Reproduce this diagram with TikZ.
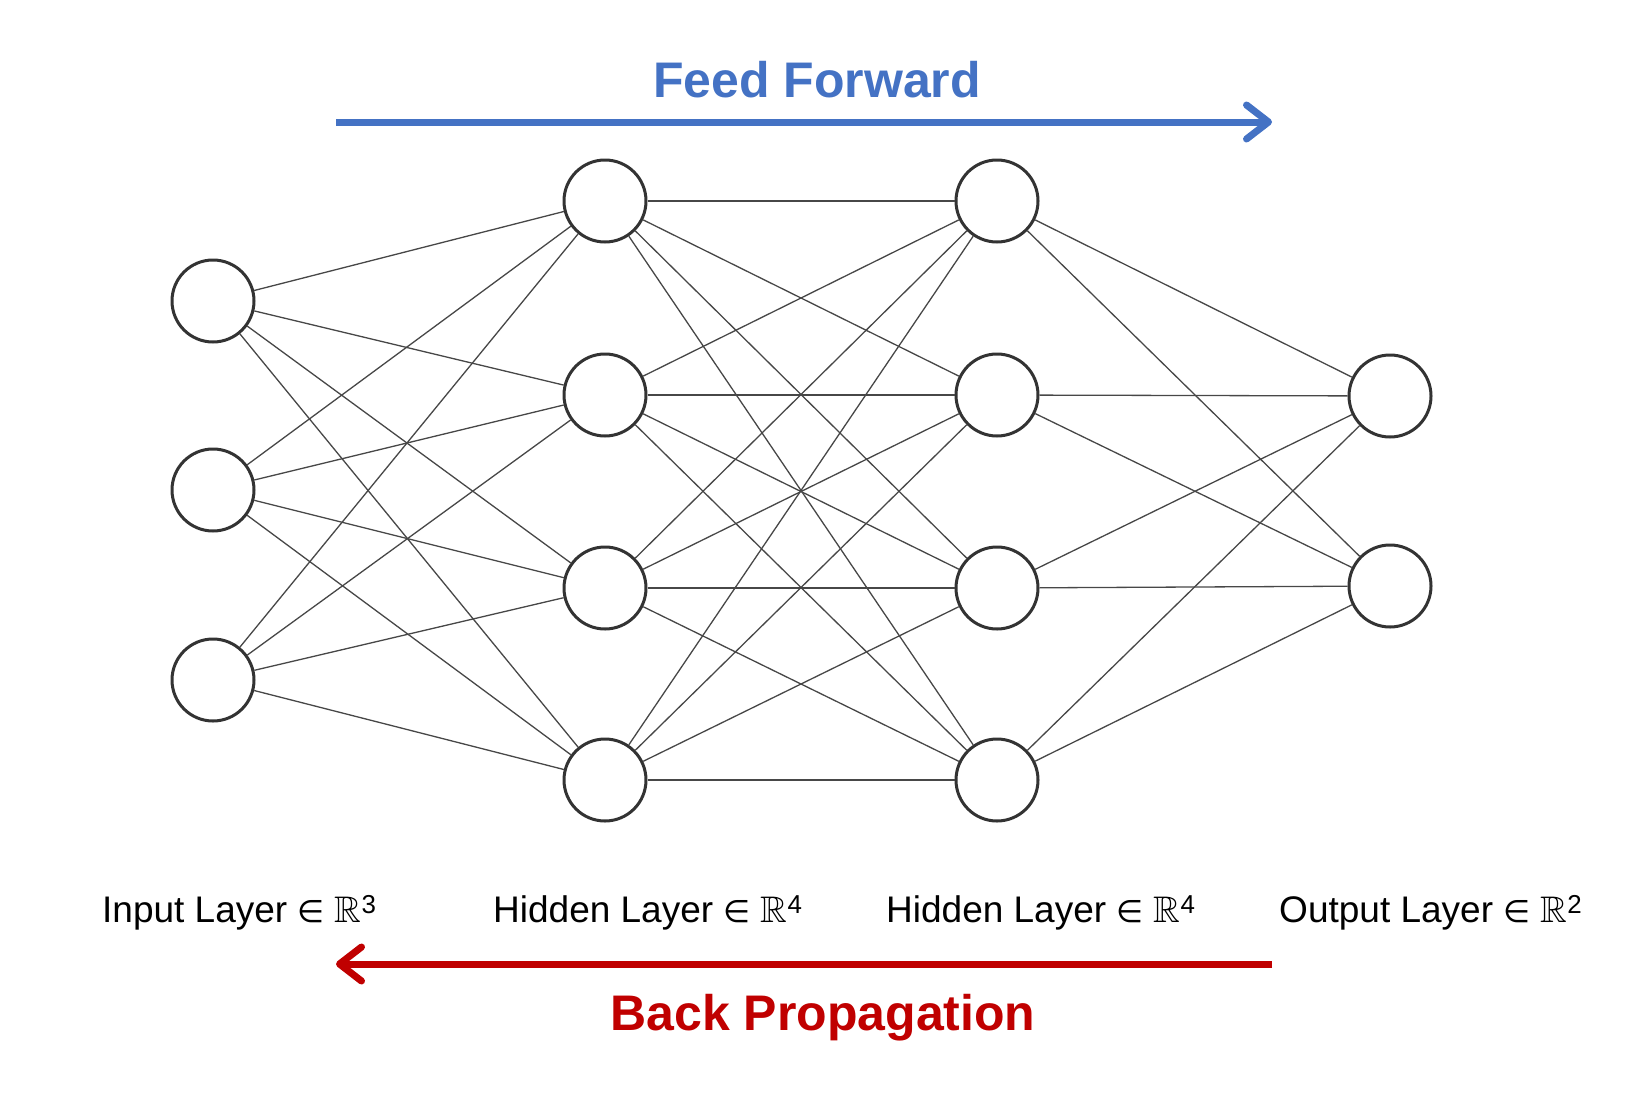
\documentclass[tikz,border=0pt]{standalone}
\usepackage{fontspec}
\usepackage{amssymb}
\setmainfont{Liberation Sans}
\newfontfamily\djv{DejaVu Sans}
\usetikzlibrary{arrows.meta}
\definecolor{ffblue}{HTML}{4472C4}
\definecolor{bpred}{HTML}{C00000}
\definecolor{nodegray}{HTML}{333333}
\definecolor{edgegray}{HTML}{474747}
\newcommand{\inR}[1]{{\djv\fontsize{31}{36}\selectfont ∈} $\mathbb{R}$\textsuperscript{#1}}
\begin{document}
\begin{tikzpicture}[x=1pt,y=-1pt,
  neuron/.style={circle,draw=nodegray,line width=3pt,fill=white,minimum size=82pt,inner sep=0pt},
  edge/.style={draw=edgegray,line width=1.3pt},
  layerlabel/.style={anchor=west,inner sep=0pt,font=\fontsize{37}{42}\selectfont},
  title/.style={font=\fontsize{50}{56}\selectfont\bfseries,inner sep=0pt},
  flow/.style={line width=7pt,-{Straight Barb[length=22pt,width=34pt,round]}}]
\useasboundingbox (0,0) rectangle (1646,1098);

% input layer
\node[neuron] (i1) at (213,301) {};
\node[neuron] (i2) at (213,490) {};
\node[neuron] (i3) at (213,680) {};
% hidden layer 1
\node[neuron] (a1) at (605,201) {};
\node[neuron] (a2) at (605,395) {};
\node[neuron] (a3) at (605,588) {};
\node[neuron] (a4) at (605,780) {};
% hidden layer 2
\node[neuron] (b1) at (997,201) {};
\node[neuron] (b2) at (997,395) {};
\node[neuron] (b3) at (997,588) {};
\node[neuron] (b4) at (997,780) {};
% output layer
\node[neuron] (o1) at (1390,396) {};
\node[neuron] (o2) at (1390,586) {};

\foreach \i in {1,2,3} \foreach \j in {1,2,3,4} \draw[edge] (i\i) -- (a\j);
\foreach \i in {1,2,3,4} \foreach \j in {1,2,3,4} \draw[edge] (a\i) -- (b\j);
\foreach \i in {1,2,3,4} \foreach \j in {1,2} \draw[edge] (b\i) -- (o\j);

% labels
\node[layerlabel] (lin) at (102,913) {Input Layer \inR{3}};
\node[layerlabel] (lh1) at (493,913) {Hidden Layer \inR{4}};
\node[layerlabel] (lh2) at (886,913) {Hidden Layer \inR{4}};
\node[layerlabel] (lout) at (1279,913) {Output Layer \inR{2}};

% feed forward
\node[title,text=ffblue] (fft) at (817,80) {Feed Forward};
\coordinate (ffs) at (336,122);
\coordinate (ffe) at (1272,122);
\draw[flow,ffblue] (ffs) -- (ffe);

% back propagation
\node[title,text=bpred] (bpt) at (823,1018) {Back Propagation};
\coordinate (bps) at (1272,964);
\coordinate (bpe) at (336,964);
\draw[flow,bpred] (bps) -- (bpe);
\end{tikzpicture}
\end{document}
